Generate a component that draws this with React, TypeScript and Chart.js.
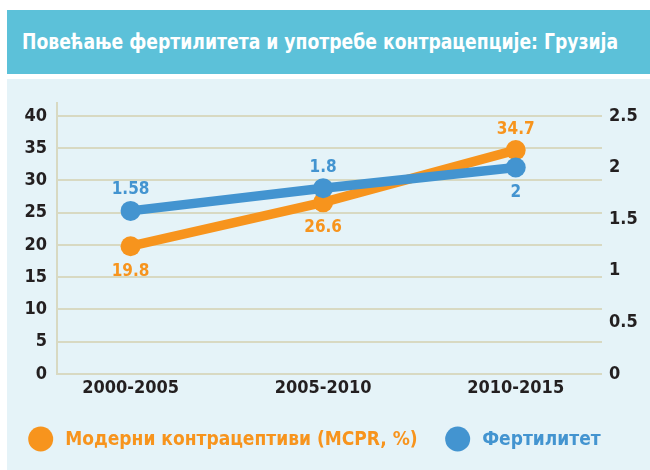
import React, { useEffect, useRef } from 'react';
import { Chart, registerables } from 'chart.js';

Chart.register(...registerables);

const TITLE = 'Повећање фертилитета и употребе контрацепције: Грузија';
const categories = ['2000-2005', '2005-2010', '2010-2015'];
const mcprLabel = 'Модерни контрацептиви (MCPR, %)';
const mcprValues = [19.8, 26.6, 34.7];
const mcprText = ['19.8', '26.6', '34.7'];
const fertLabel = 'Фертилитет';
const fertValues = [1.58, 1.8, 2];
const fertText = ['1.58', '1.8', '2'];
const leftTicks = [0, 5, 10, 15, 20, 25, 30, 35, 40];
const rightTicks = [0, 0.5, 1, 1.5, 2, 2.5];

const ORANGE = '#F7941D';
const BLUE = '#4394D0';
const DARK = '#231F20';
const GRID = '#D8D9C2';
const FAMILY = "'DejaVu Sans Condensed', 'DejaVu Sans', sans-serif";

const valueLabels = {
  id: 'valueLabels',
  afterDatasetsDraw(chart: any) {
    const ctx = chart.ctx;
    chart.data.datasets.forEach((ds: any, di: number) => {
      const meta = chart.getDatasetMeta(di);
      meta.data.forEach((pt: any, i: number) => {
        const dy = ds.labelPos[i] === 'above' ? -21 : 25;
        ctx.save();
        ctx.font = `bold 17px ${FAMILY}`;
        ctx.fillStyle = ds.borderColor;
        ctx.textAlign = 'center';
        ctx.textBaseline = 'middle';
        ctx.fillText(ds.valueText[i], pt.x, pt.y + dy);
        ctx.restore();
      });
    });
  },
};

// Legend drawn below the x axis from the datasets' labels and colours
const dotLegend = {
  id: 'dotLegend',
  afterDraw(chart: any) {
    const ctx = chart.ctx;
    const cy = chart.chartArea.bottom + 65;
    let x = 33.7;
    ctx.save();
    ctx.font = `bold 19px ${FAMILY}`;
    ctx.textAlign = 'left';
    ctx.textBaseline = 'middle';
    chart.data.datasets.forEach((ds: any) => {
      ctx.fillStyle = ds.borderColor;
      ctx.beginPath();
      ctx.arc(x, cy, 12.5, 0, Math.PI * 2);
      ctx.fill();
      const tx = x + 24.5;
      ctx.fillText(ds.label, tx, cy + 1);
      x = tx + ctx.measureText(ds.label).width + 40;
    });
    ctx.restore();
  },
};

export default function App() {
  const ref = useRef<HTMLCanvasElement>(null);

  useEffect(() => {
    if (!ref.current) return;
    const chart = new Chart(ref.current, {
      type: 'line',
      data: {
        datasets: [
          {
            label: mcprLabel,
            data: mcprValues.map((v, i) => ({ x: i, y: v })),
            yAxisID: 'y',
            borderColor: ORANGE,
            backgroundColor: ORANGE,
            pointBackgroundColor: ORANGE,
            borderWidth: 9.5,
            pointRadius: 10,
            pointBorderWidth: 0,
            order: 2,
            valueText: mcprText,
            labelPos: ['below', 'below', 'above'],
          } as any,
          {
            label: fertLabel,
            data: fertValues.map((v, i) => ({ x: i, y: v })),
            yAxisID: 'y1',
            borderColor: BLUE,
            backgroundColor: BLUE,
            pointBackgroundColor: BLUE,
            borderWidth: 9.5,
            pointRadius: 10,
            pointBorderWidth: 0,
            order: 1,
            valueText: fertText,
            labelPos: ['above', 'above', 'below'],
          } as any,
        ],
      },
      options: {
        animation: false,
        responsive: false,
        maintainAspectRatio: false,
        layout: { padding: { top: 24, bottom: 56, left: 0, right: 0 } },
        scales: {
          x: {
            type: 'linear',
            min: -0.382,
            max: 2.448,
            afterBuildTicks: (s: any) => {
              s.ticks = categories.map((_, i) => ({ value: i }));
            },
            afterFit: (s: any) => {
              s.height = 40;
            },
            grid: { display: false, drawTicks: false },
            border: { display: false },
            ticks: {
              autoSkip: false,
              callback: (v: any) => categories[v],
              color: DARK,
              padding: 4,
              font: { family: FAMILY, size: 18, weight: 'bold' },
              maxRotation: 0,
            },
          },
          y: {
            type: 'linear',
            position: 'left',
            min: 0,
            max: 42,
            afterBuildTicks: (s: any) => {
              s.ticks = leftTicks.map((v) => ({ value: v }));
            },
            afterFit: (s: any) => {
              s.width = 50;
            },
            grid: { color: GRID, lineWidth: 2, drawTicks: false },
            border: { display: true, color: GRID, width: 2 },
            ticks: {
              autoSkip: false,
              callback: (v: any) => String(v),
              color: DARK,
              padding: 10,
              font: { family: FAMILY, size: 18, weight: 'bold' },
            },
          },
          y1: {
            type: 'linear',
            position: 'right',
            min: 0,
            max: 2.625,
            afterBuildTicks: (s: any) => {
              s.ticks = rightTicks.map((v) => ({ value: v }));
            },
            afterFit: (s: any) => {
              s.width = 48;
            },
            grid: { display: false, drawTicks: false },
            border: { display: false },
            ticks: {
              autoSkip: false,
              callback: (v: any) => String(v),
              color: DARK,
              padding: 7,
              font: { family: FAMILY, size: 18, weight: 'bold' },
            },
          },
        },
        plugins: {
          tooltip: { enabled: false },
          legend: { display: false },
        },
      } as any,
      plugins: [valueLabels, dotLegend],
    });
    return () => chart.destroy();
  }, []);

  return (
    <div style={{ position: 'absolute', left: 0, top: 0, width: 650, height: 470, background: '#ffffff' }}>
      <div
        style={{
          position: 'absolute',
          left: 7,
          top: 10,
          width: 643,
          height: 64,
          background: '#5CC1D9',
          overflow: 'hidden',
        }}
      >
        <span
          style={{
            position: 'absolute',
            left: 15,
            top: 0,
            lineHeight: '64px',
            color: '#ffffff',
            fontFamily: FAMILY,
            fontWeight: 'bold',
            fontSize: 22,
            whiteSpace: 'nowrap',
            transform: 'scaleX(0.87)',
            transformOrigin: 'left center',
          }}
        >
          {TITLE}
        </span>
      </div>
      <div style={{ position: 'absolute', left: 7, top: 79, width: 643, height: 391, background: '#E5F3F8' }}>
        <canvas ref={ref} width={643} height={391} style={{ display: 'block', width: 643, height: 391 }} />
      </div>
    </div>
  );
}
